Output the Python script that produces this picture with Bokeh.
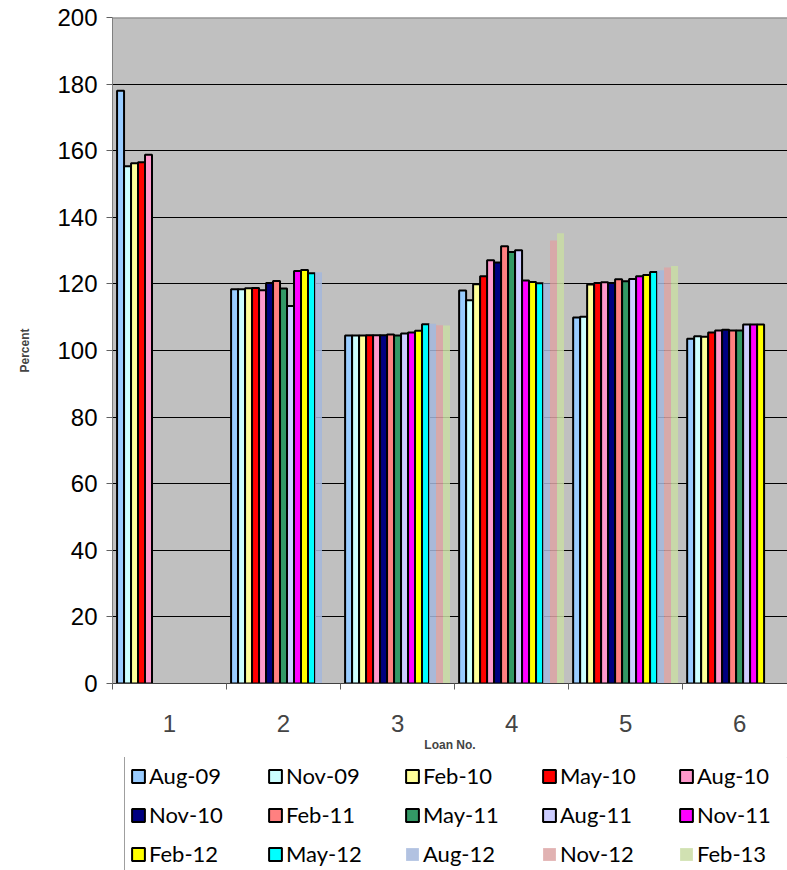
import math
from bokeh.plotting import figure
from bokeh.layouts import column
from bokeh.models import ColumnDataSource, Legend, LegendItem, FixedTicker, Span
from bokeh.transform import dodge
from bokeh.embed import file_html
from bokeh.resources import INLINE

NaN = float("nan")

loans = [1, 2, 3, 4, 5, 6]
loan_labels = ["1", "2", "3", "4", "5", "6"]

aug09 = [178.0, 118.4, 104.5, 118.0, 109.9, 103.5]
nov09 = [155.3, 118.4, 104.5, 115.1, 110.1, 104.3]
feb10 = [156.2, 118.7, 104.5, 119.9, 119.8, 104.1]
may10 = [156.5, 118.8, 104.6, 122.3, 120.3, 105.4]
aug10 = [158.8, 118.1, 104.6, 127.1, 120.5, 106.0]
nov10 = [NaN, 120.3, 104.6, 126.4, 120.3, 106.2]
feb11 = [NaN, 120.9, 104.8, 131.3, 121.4, 106.0]
may11 = [NaN, 118.6, 104.5, 129.6, 120.8, 106.0]
aug11 = [NaN, 113.4, 105.1, 130.1, 121.5, 107.8]
nov11 = [NaN, 123.9, 105.4, 121.0, 122.3, 107.8]
feb12 = [NaN, 124.2, 105.9, 120.6, 122.7, 107.8]
may12 = [NaN, 123.2, 107.9, 120.2, 123.6, NaN]
aug12 = [NaN, 123.5, 108.0, 120.2, 124.1, NaN]
nov12 = [NaN, NaN, 107.6, 133.0, 124.9, NaN]
feb13 = [NaN, NaN, 107.5, 135.2, 125.4, NaN]

series_names = ["Aug-09", "Nov-09", "Feb-10", "May-10", "Aug-10",
                "Nov-10", "Feb-11", "May-11", "Aug-11", "Nov-11",
                "Feb-12", "May-12", "Aug-12", "Nov-12", "Feb-13"]
series_values = [aug09, nov09, feb10, may10, aug10, nov10, feb11, may11,
                 aug11, nov11, feb12, may12, aug12, nov12, feb13]
series_colors = ["#99CCFF", "#CCFFFF", "#FFFF99", "#FF0000", "#FF99CC",
                 "#000080", "#FF8080", "#339966", "#CCCCFF", "#FF00FF",
                 "#FFFF00", "#00FFFF", "#A4B7DC", "#DCA4A4", "#C9DCA4"]
series_bordered = [True] * 12 + [False] * 3

y_ticks = list(range(0, 201, 20))

p = figure(width=787, height=757, x_range=(0.5, 6.42), y_range=(0, 200),
           output_backend="svg", toolbar_location=None,
           min_border_left=112, min_border_right=0, min_border_top=17,
           min_border_bottom=74,
           background_fill_color="#C0C0C0", border_fill_color="white",
           outline_line_color=None)

p.xgrid.grid_line_color = None
p.ygrid.ticker = FixedTicker(ticks=y_ticks)
p.ygrid.grid_line_color = "black"
p.ygrid.grid_line_width = 1

n = len(series_names)
w = 0.92 / n


def bar_style(col, bord):
    if bord:
        return dict(fill_color=col, line_color="black", line_width=2)
    return dict(fill_color=col, fill_alpha=0.85, line_color=None)


for i, (name, vals, col, bord) in enumerate(zip(series_names, series_values, series_colors, series_bordered)):
    src = ColumnDataSource(dict(x=loans, top=vals))
    p.vbar(x=dodge("x", (i - (n - 1) / 2) * w, range=p.x_range), top="top", bottom=0,
           width=w, source=src, **bar_style(col, bord))

p.add_layout(Span(location=200, dimension="width", line_color="#808080", line_width=2))

# y axis
yax = p.yaxis[0]
yax.ticker = FixedTicker(ticks=y_ticks)
yax.axis_line_color = "#808080"
yax.axis_line_width = 1
yax.major_tick_line_color = "#606060"
yax.major_tick_out = 6
yax.major_tick_in = 0
yax.minor_tick_out = 0
yax.major_label_text_font = "Liberation Sans"
yax.major_label_text_font_size = "24px"
yax.major_label_text_color = "black"
yax.major_label_standoff = 9
yax.axis_label = "Percent"
yax.axis_label_text_font = "Liberation Sans"
yax.axis_label_text_font_style = "bold"
yax.axis_label_text_font_size = "12px"
yax.axis_label_standoff = 22

# x axis
xax = p.xaxis[0]
xax.ticker = FixedTicker(ticks=loans, minor_ticks=[0.5, 1.5, 2.5, 3.5, 4.5, 5.5, 6.5])
xax.major_label_overrides = {k: v for k, v in zip(loans, loan_labels)}
xax.axis_line_color = "#404040"
xax.major_tick_out = 0
xax.major_tick_in = 0
xax.minor_tick_out = 6
xax.minor_tick_in = 0
xax.minor_tick_line_color = "#606060"
xax.major_label_text_font = "Liberation Sans"
xax.major_label_text_font_size = "24px"
xax.major_label_standoff = 25
xax.axis_label = "Loan No."
xax.axis_label_text_font = "Liberation Sans"
xax.axis_label_text_font_style = "bold"
xax.axis_label_text_font_size = "12px"
xax.axis_label_standoff = 3

# legend panel (separate strip below the chart)
lf = figure(width=787, height=113, x_range=(0, 1), y_range=(0, 1),
            output_backend="svg", toolbar_location=None,
            min_border_left=0, min_border_right=0, min_border_top=0, min_border_bottom=0,
            outline_line_color=None, background_fill_color="white", border_fill_color="white")
lf.axis.visible = False
lf.grid.visible = False
items = []
for name, col, bord in zip(series_names, series_colors, series_bordered):
    # key renderers sit outside the visible range; only their legend glyphs show
    r = lf.vbar(x=[10], top=[10], bottom=[9], width=0.1, **bar_style(col, bord))
    items.append(LegendItem(label=name, renderers=[r]))

legend = Legend(items=items, location=(12, -3), orientation="horizontal", ncols=5,
                label_text_font="Lato", label_text_font_size="22px", label_text_color="black",
                glyph_width=16, glyph_height=16, label_standoff=3,
                label_width=106, label_height=20, spacing=12, padding=5, margin=0,
                border_line_color="#404040", border_line_width=1,
                background_fill_color="white")
lf.add_layout(legend, "center")

layout = column(p, lf, spacing=0)
open("out.html", "w").write(file_html(layout, INLINE))
